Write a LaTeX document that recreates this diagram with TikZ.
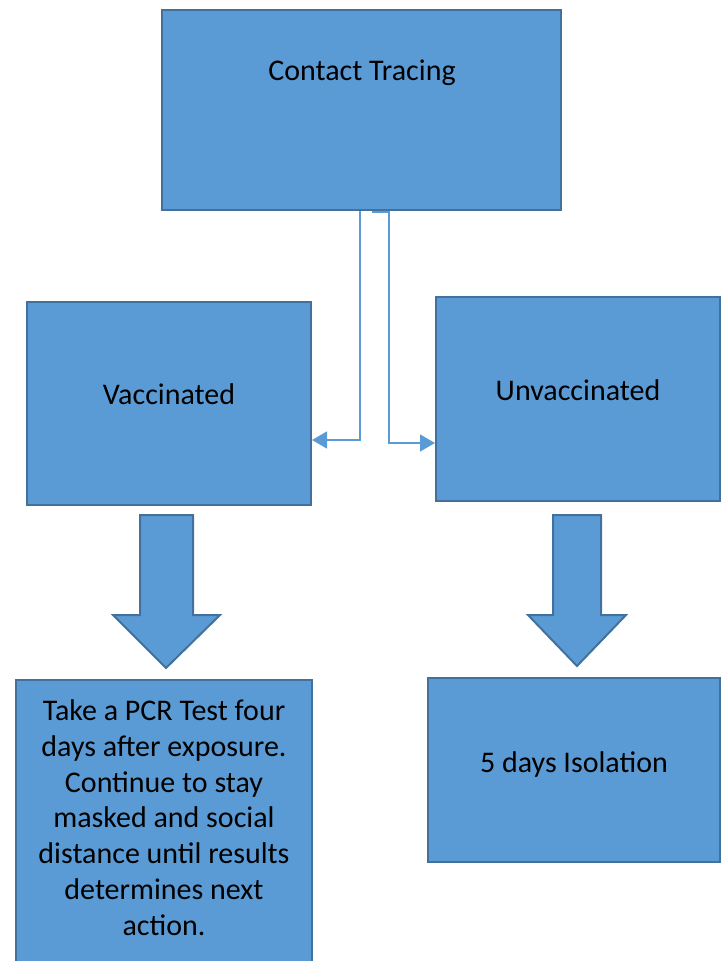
\documentclass[tikz,border=0pt]{standalone}
\usepackage{fontspec}
\setmainfont{Carlito}
\usetikzlibrary{arrows.meta}
\definecolor{boxfill}{HTML}{5B9BD5}
\definecolor{boxline}{HTML}{41719C}
\definecolor{conn}{HTML}{5B9BD5}
\tikzset{
  box/.style={draw=boxline, fill=boxfill, line width=2pt, inner sep=0pt},
  lbl/.style={inner sep=0pt, font=\fontsize{30}{35.8}\selectfont, text=black},
  conline/.style={draw=conn, line width=1.4pt, -{Triangle[length=15pt,width=17pt]}},
  bigarrow/.style={draw=boxline, fill=boxfill, line width=2pt, line join=miter}
}
\begin{document}
\begin{tikzpicture}[x=1pt,y=-1pt]
\useasboundingbox (0,0) rectangle (721,961);
% boxes
\node[box, minimum width=399pt, minimum height=200pt] (ct) at (361.5,110) {};
\node[box, minimum width=284pt, minimum height=203pt] (vac) at (169,403.5) {};
\node[box, minimum width=284pt, minimum height=204pt] (unv) at (578,399) {};
\node[box, minimum width=296pt, minimum height=290pt] (pcr) at (164,825) {};
\node[box, minimum width=292pt, minimum height=184pt] (iso) at (574,770) {};
% labels
\node[lbl, anchor=base] (ctl) at (362,80) {Contact Tracing};
\node[lbl, anchor=base] (vacl) at (169,404) {Vaccinated};
\node[lbl, anchor=base] (unvl) at (578,400) {Unvaccinated};
\node[lbl, anchor=base] (isol) at (574,772) {5 days Isolation};
\node[lbl, anchor=north, align=center] (pcrl) at (164,699.5) {Take a PCR Test four\\days after exposure.\\Continue to stay\\masked and social\\distance until results\\determines next\\action.};
% connectors
\coordinate (c1) at (360,211);
\coordinate (c2) at (372,212);
\draw[conline] (c1) |- (vac.east |- 0,440);
\draw[conline] (c2) -- (389,212) |- (unv.west |- 0,443);
% big arrows
\draw[bigarrow] (140,515) -- (193,515) -- (193,615) -- (220,615) -- (166,668) -- (113,615) -- (140,615) -- cycle;
\draw[bigarrow] (553,515) -- (601,515) -- (601,615) -- (626,615) -- (577,666) -- (528,615) -- (553,615) -- cycle;
\end{tikzpicture}
\end{document}
